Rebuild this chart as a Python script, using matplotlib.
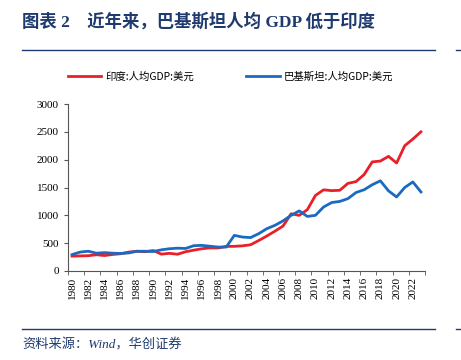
import numpy as np
import matplotlib.pyplot as plt
from matplotlib.lines import Line2D

plt.rcParams['font.family'] = ['Liberation Serif', 'Noto Sans CJK SC']

years = list(range(1980, 2024))
india = [267, 271, 275, 292, 278, 297, 310, 340, 354, 346, 368, 303, 317, 301, 346,
         374, 400, 415, 413, 442, 443, 452, 471, 547, 628, 715, 807, 1028, 999, 1102,
         1358, 1458, 1444, 1450, 1574, 1606, 1733, 1960, 1975, 2060, 1940, 2250, 2370, 2500]
pakistan = [295, 340, 355, 320, 330, 320, 315, 325, 355, 355, 350, 380, 400, 410, 405,
            455, 460, 445, 430, 430, 640, 610, 600, 670, 760, 820, 900, 1000, 1080, 980,
            1000, 1150, 1230, 1250, 1300, 1410, 1460, 1550, 1620, 1440, 1330, 1500, 1600, 1420]
labels = ['印度:人均GDP:美元', '巴基斯坦:人均GDP:美元']
colors = ['#E8202A', '#1B6AC0']
navy = '#1F3A6E'
mixed = ['Liberation Serif', 'Noto Sans CJK SC']

fig = plt.figure(figsize=(4.61, 3.6), dpi=100)
ax = fig.add_axes([68 / 461, 1 - 271 / 360, (425 - 68) / 461, (271 - 104) / 360])

x = np.arange(len(years))
ax.plot(x, india, color=colors[0], lw=2.0)
ax.plot(x, pakistan, color=colors[1], lw=2.0)

ax.set_xlim(-0.5, len(years) - 0.5)
ax.set_ylim(0, 3000)
ax.set_yticks(range(0, 3001, 500))
ax.set_xticks(x[::2])
ax.set_xticklabels([str(y) for y in years[::2]], rotation=90)
ax.set_xticks(np.arange(-0.5, len(years), 2), minor=True)
ax.tick_params(axis='x', which='major', length=0, pad=4, labelsize=8)
ax.tick_params(axis='x', which='minor', length=3, color='#555555')
ax.tick_params(axis='y', length=3, color='#555555', labelsize=8)
for s in ['top', 'right']:
    ax.spines[s].set_visible(False)
for s in ['left', 'bottom']:
    ax.spines[s].set_color('#555555')

# legend
legend_elements = [Line2D([0], [0], color=colors[i], lw=2.0, label=labels[i]) for i in range(2)]
fig.legend(handles=legend_elements, loc='center', bbox_to_anchor=(0.5, 1 - 77 / 360), ncol=2,
           frameon=False, prop={'family': ['Noto Sans CJK SC'], 'size': 7.5}, handlelength=3.2,
           columnspacing=5.0, handletextpad=0.4)

# title, rules and source
fig.text(22 / 461, 1 - 22 / 360, '图表 2　近年来，巴基斯坦人均 GDP 低于印度', color=navy,
         fontsize=12.5, fontweight='bold', va='center', ha='left', family=mixed)
for yy in [50, 329]:
    fig.add_artist(Line2D([22 / 461, 435 / 461], [1 - yy / 360] * 2, color=navy, lw=1.0))
    fig.add_artist(Line2D([456 / 461, 1.0], [1 - yy / 360] * 2, color=navy, lw=1.0))
fig.text(22 / 461, 1 - 345 / 360, '资料来源：Wind，华创证券', color=navy, fontsize=9.5,
         style='italic', va='center', ha='left', family=mixed)

fig.savefig('out.png', dpi=100)
